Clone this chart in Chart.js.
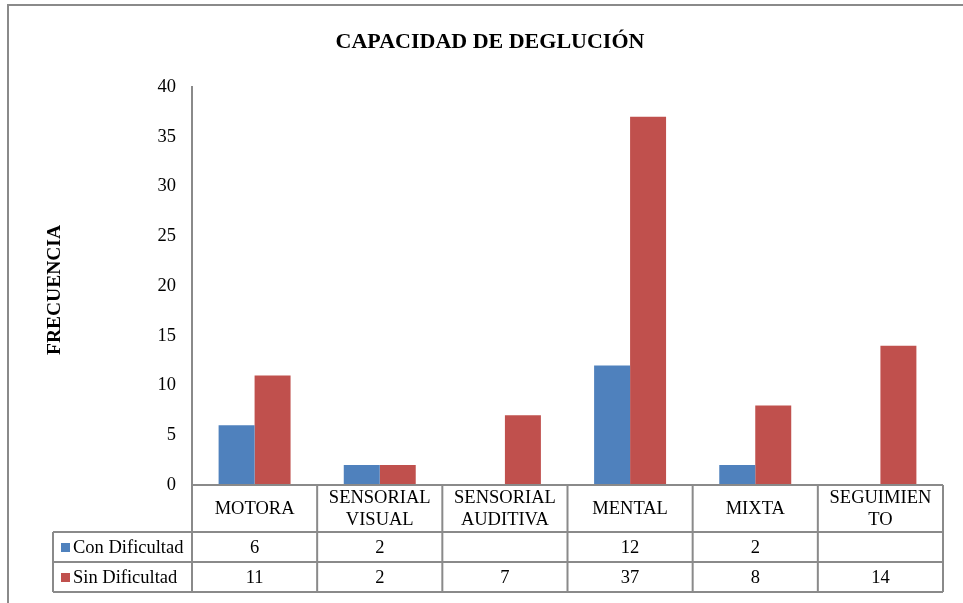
<!DOCTYPE html>
<html>
<head>
<meta charset="utf-8">
<script src="https://cdn.jsdelivr.net/npm/chart.js@4.4.1/dist/chart.umd.min.js"></script>
<style>
  html, body { margin: 0; padding: 0; background: #fff; }
  #wrap { width: 963px; height: 603px; }
</style>
</head>
<body>
<div id="wrap"><canvas id="deglucionChart" width="963" height="603"></canvas></div>
<script>
const categories = [['MOTORA'], ['SENSORIAL', 'VISUAL'], ['SENSORIAL', 'AUDITIVA'], ['MENTAL'], ['MIXTA'], ['SEGUIMIEN', 'TO']];
const conDificultad = [6, 2, null, 12, 2, null];
const sinDificultad = [11, 2, 7, 37, 8, 14];
const yTicks = [0, 5, 10, 15, 20, 25, 30, 35, 40];

const FONT = "'Liberation Serif', 'Times New Roman', serif";
const LINE = '#8a8a8a';

// frame, title, y title and the data table under the bars
const extras = {
    id: 'extras',
    beforeDraw(chart) {
        const ctx = chart.ctx;
        ctx.save();
        ctx.strokeStyle = LINE;
        ctx.lineWidth = 2;
        ctx.beginPath();
        ctx.moveTo(8, 603);
        ctx.lineTo(8, 5);
        ctx.lineTo(963, 5);
        ctx.stroke();
        ctx.restore();
    },
    afterDraw(chart) {
        const ctx = chart.ctx;
        const x = chart.scales.x;
        const area = chart.chartArea;
        const n = categories.length;
        const w = (area.right - area.left) / n;
        const top = area.bottom;
        const hdrB = 532, r1B = 562, r2B = 592, legL = 53;

        ctx.save();
        // title
        ctx.fillStyle = '#000';
        ctx.textAlign = 'center';
        ctx.textBaseline = 'middle';
        ctx.font = 'bold 22px ' + FONT;
        ctx.fillText('CAPACIDAD DE DEGLUCIÓN', 490, 42);

        // y axis title
        ctx.save();
        ctx.translate(55, 290);
        ctx.rotate(-Math.PI / 2);
        ctx.font = 'bold 19.5px ' + FONT;
        ctx.fillText('FRECUENCIA', 0, 0);
        ctx.restore();

        // table grid
        ctx.strokeStyle = LINE;
        ctx.lineWidth = 2;
        ctx.beginPath();
        ctx.moveTo(area.left, top); ctx.lineTo(area.right, top);
        ctx.moveTo(legL, hdrB); ctx.lineTo(area.right, hdrB);
        ctx.moveTo(legL, r1B); ctx.lineTo(area.right, r1B);
        ctx.moveTo(legL, r2B); ctx.lineTo(area.right, r2B);
        ctx.moveTo(legL, hdrB); ctx.lineTo(legL, r2B);
        for (let i = 0; i <= n; i++) {
            const cx = area.left + i * w;
            ctx.moveTo(cx, top); ctx.lineTo(cx, r2B);
        }
        ctx.stroke();

        // header labels and values
        ctx.font = '18.5px ' + FONT;
        for (let i = 0; i < n; i++) {
            const cx = x.getPixelForValue(i);
            const lines = categories[i];
            const mid = (top + hdrB) / 2 + 1;
            lines.forEach((t, k) => {
                ctx.fillText(t, cx, mid + (k - (lines.length - 1) / 2) * 22);
            });
            if (conDificultad[i] !== null) ctx.fillText(String(conDificultad[i]), cx, (hdrB + r1B) / 2 + 1);
            if (sinDificultad[i] !== null) ctx.fillText(String(sinDificultad[i]), cx, (r1B + r2B) / 2 + 1);
        }

        // legend keys
        const ds = chart.data.datasets;
        const rows = [(hdrB + r1B) / 2, (r1B + r2B) / 2];
        ctx.textAlign = 'left';
        rows.forEach((ry, k) => {
            ctx.fillStyle = ds[k].backgroundColor;
            ctx.fillRect(61, ry - 4, 9, 9);
            ctx.fillStyle = '#000';
            ctx.fillText(ds[k].label, 73, ry + 1);
        });
        ctx.restore();
    }
};

new Chart(document.getElementById('deglucionChart'), {
    type: 'bar',
    data: {
        labels: categories,
        datasets: [
            {
                label: 'Con Dificultad',
                data: conDificultad,
                backgroundColor: '#4F81BD',
                barPercentage: 1,
                categoryPercentage: 0.575
            },
            {
                label: 'Sin Dificultad',
                data: sinDificultad,
                backgroundColor: '#C0504D',
                barPercentage: 1,
                categoryPercentage: 0.575
            }
        ]
    },
    options: {
        responsive: false,
        animation: false,
        layout: { padding: { top: 87, right: 20, bottom: 118, left: 0 } },
        plugins: {
            legend: { display: false },
            title: { display: false },
            tooltip: { enabled: false }
        },
        scales: {
            x: { display: false },
            y: {
                min: 0,
                max: 40,
                afterFit: s => { s.width = 192; },
                afterBuildTicks: s => { s.ticks = yTicks.map(v => ({ value: v })); },
                grid: { display: false },
                border: { display: true, color: LINE, width: 2 },
                ticks: {
                    padding: 8,
                    color: '#000',
                    font: { family: FONT, size: 18.5 }
                }
            }
        }
    },
    plugins: [extras]
});
</script>
</body>
</html>
